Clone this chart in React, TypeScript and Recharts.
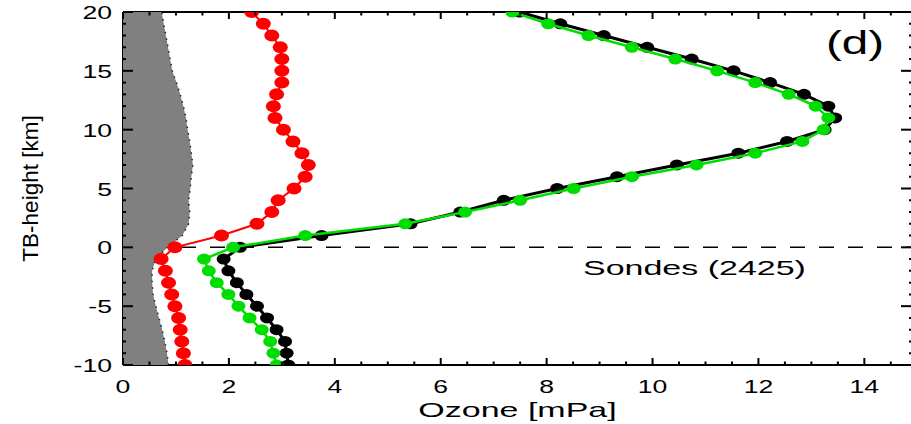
import React from "react";
import {
  ReferenceLine,
  Scatter,
  ScatterChart,
  XAxis,
  YAxis,
} from "recharts";

// altitude relative to the tropopause (km), one sample per km
const HEIGHTS = [
  -10, -9, -8, -7, -6, -5, -4, -3, -2, -1, 0, 1, 2, 3, 4, 5, 6, 7, 8, 9, 10,
  11, 12, 13, 14, 15, 16, 17, 18, 19, 20,
];

// ozone partial pressure (mPa) per height
const RED_O3 = [
  1.17, 1.14, 1.11, 1.08, 1.05, 0.98, 0.92, 0.86, 0.8, 0.72, 0.98, 1.86, 2.53,
  2.81, 2.93, 3.23, 3.44, 3.5, 3.38, 3.21, 3.03, 2.87, 2.84, 2.9, 3.0, 3.0, 3.0,
  2.97, 2.81, 2.65, 2.43,
];
const BLACK_O3 = [
  3.12, 3.09, 3.06, 2.9, 2.72, 2.53, 2.33, 2.15, 1.99, 1.9, 2.21, 3.75, 5.43,
  6.37, 7.19, 8.2, 9.33, 10.46, 11.62, 12.54, 13.25, 13.45, 13.32, 12.86, 12.22,
  11.53, 10.74, 9.9, 9.08, 8.26, 7.49,
];
const GREEN_O3 = [
  2.9, 2.84, 2.78, 2.62, 2.39, 2.18, 1.99, 1.77, 1.62, 1.53, 2.08, 3.44, 5.33,
  6.46, 7.5, 8.51, 9.61, 10.83, 11.94, 12.83, 13.23, 13.32, 13.08, 12.57, 11.94,
  11.22, 10.43, 9.61, 8.79, 8.03, 7.35,
];
// shaded envelope (right edge) per height
const SHADE_O3 = [
  0.86, 0.83, 0.79, 0.74, 0.68, 0.62, 0.57, 0.55, 0.55, 0.62, 0.84, 1.12, 1.24,
  1.26, 1.24, 1.27, 1.29, 1.32, 1.29, 1.26, 1.22, 1.19, 1.14, 1.08, 1.01, 0.93,
  0.89, 0.85, 0.81, 0.77, 0.73,
];

const X_TICKS = [
  0, 0.5, 1, 1.5, 2, 2.5, 3, 3.5, 4, 4.5, 5, 5.5, 6, 6.5, 7, 7.5, 8, 8.5, 9,
  9.5, 10, 10.5, 11, 11.5, 12, 12.5, 13, 13.5, 14, 14.5,
];
const X_LABELED = [0, 2, 4, 6, 8, 10, 12, 14];
const Y_LABELED = [-10, -5, 0, 5, 10, 15, 20];
const X_MAX = 14.9;

// chart box
const W = 914;
const H = 424;
const MARGIN = { top: 12, right: 2, bottom: 0, left: 0 };
const Y_AXIS_W = 123;
const X_AXIS_H = 59;
const PLOT_W = W - MARGIN.left - MARGIN.right - Y_AXIS_W;
const PLOT_H = H - MARGIN.top - MARGIN.bottom - X_AXIS_H;

const FONT = "'Liberation Sans', Arial, Helvetica, sans-serif";

const toRows = (vals: number[]) => HEIGHTS.map((h, i) => ({ h, x: vals[i] }));
const redRows = toRows(RED_O3);
const blackRows = toRows(BLACK_O3);
const greenRows = toRows(GREEN_O3);
const shadeEdge = toRows(SHADE_O3);
const shadeRows = [
  { h: HEIGHTS[0], x: 0 },
  ...shadeEdge,
  { h: HEIGHTS[HEIGHTS.length - 1], x: 0 },
];

const noDot = () => <g />;
const dot = (fill: string, rx: number, ry: number) => (p: any) => (
  <ellipse cx={p.cx} cy={p.cy} rx={rx} ry={ry} fill={fill} />
);

// inward ticks on the bottom edge plus the mirrored ones on the top edge
function XTick(props: any) {
  const { x, y, payload } = props;
  const major = X_LABELED.includes(payload.value);
  const len = major ? 7 : 3.5;
  const top = y - PLOT_H;
  return (
    <g>
      <line x1={x} x2={x} y1={y} y2={y - len} stroke="#000" strokeWidth={2} />
      <line x1={x} x2={x} y1={top} y2={top + len} stroke="#000" strokeWidth={2} />
      {major && (
        <text
          transform={`translate(${x},${y + 28}) scale(1.4,1)`}
          textAnchor="middle"
          fontSize={19}
          fontFamily={FONT}
          fill="#000"
        >
          {payload.value}
        </text>
      )}
    </g>
  );
}

// inward ticks on the left edge plus the mirrored ones on the right edge
function YTick(props: any) {
  const { x, y, payload } = props;
  const major = Y_LABELED.includes(payload.value);
  const right = x + PLOT_W;
  return (
    <g>
      <line x1={x} x2={x + (major ? 10 : 3)} y1={y} y2={y} stroke="#000" strokeWidth={2} />
      <line x1={right} x2={right - (major ? 11 : 3)} y1={y} y2={y} stroke="#000" strokeWidth={2} />
      {major && (
        <text
          transform={`translate(${x - 11},${y + 7}) scale(1.4,1)`}
          textAnchor="end"
          fontSize={19}
          fontFamily={FONT}
          fill="#000"
        >
          {payload.value}
        </text>
      )}
    </g>
  );
}

export default function App() {
  return (
    <div
      style={{
        position: "absolute",
        left: 0,
        top: 0,
        width: 911,
        height: 424,
        overflow: "hidden",
        background: "#fff",
      }}
    >
      <ScatterChart width={W} height={H} margin={MARGIN}>
        <XAxis
          type="number"
          dataKey="x"
          domain={[0, X_MAX]}
          ticks={X_TICKS}
          interval={0}
          allowDataOverflow
          height={X_AXIS_H}
          tickSize={0}
          tickMargin={0}
          tickLine={false}
          tick={<XTick />}
          axisLine={{ stroke: "#000", strokeWidth: 2 }}
          label={{
            content: (p: any) => (
              <text
                transform={`translate(${p.viewBox.x + p.viewBox.width / 2},${p.viewBox.y + 52}) scale(1.7,1)`}
                textAnchor="middle"
                fontSize={20}
                fontFamily={FONT}
                fill="#000"
              >
                Ozone [mPa]
              </text>
            ),
          }}
        />
        <YAxis
          type="number"
          dataKey="h"
          domain={[-10, 20]}
          ticks={HEIGHTS}
          interval={0}
          allowDataOverflow
          width={Y_AXIS_W}
          tickSize={0}
          tickMargin={0}
          tickLine={false}
          tick={<YTick />}
          axisLine={{ stroke: "#000", strokeWidth: 2 }}
          label={{
            content: (p: any) => (
              <text
                transform={`translate(30,${p.viewBox.y + p.viewBox.height / 2}) rotate(-90)`}
                textAnchor="middle"
                dominantBaseline="central"
                fontSize={22.5}
                fontFamily={FONT}
                fill="#000"
              >
                TB-height [km]
              </text>
            ),
          }}
        />

        {/* shaded envelope */}
        <Scatter
          data={shadeRows}
          shape={noDot}
          line={{ fill: "#808080", stroke: "none" }}
          isAnimationActive={false}
        />
        <Scatter
          data={shadeEdge}
          shape={noDot}
          line={{ stroke: "#222", strokeWidth: 1.5, strokeDasharray: "1.5 5" }}
          isAnimationActive={false}
        />

        {/* frame edges drawn over the shading */}
        <ReferenceLine x={0} stroke="#000" strokeWidth={2} />
        <ReferenceLine
          y={0}
          stroke="#000"
          strokeWidth={1.5}
          strokeDasharray="15 14"
          label={{
            content: (p: any) => (
              <text
                transform={`translate(${p.viewBox.x + 460},${p.viewBox.y + 28}) scale(1.7,1)`}
                textAnchor="start"
                fontSize={20}
                fontFamily={FONT}
                fill="#000"
              >
                Sondes (2425)
              </text>
            ),
          }}
        />
        <ReferenceLine
          y={20}
          stroke="#000"
          strokeWidth={2}
          label={{
            content: (p: any) => (
              <text
                transform={`translate(${p.viewBox.x + 732},${p.viewBox.y + 42}) scale(1.4,1)`}
                textAnchor="middle"
                fontSize={34}
                fontFamily={FONT}
                fill="#000"
              >
                (d)
              </text>
            ),
          }}
        />

        <Scatter
          data={redRows}
          shape={dot("#ff0000", 7.5, 6)}
          line={{ stroke: "#ff0000", strokeWidth: 2 }}
          isAnimationActive={false}
        />
        <Scatter
          data={blackRows}
          shape={dot("#000000", 7, 5.5)}
          line={{ stroke: "#000000", strokeWidth: 3 }}
          isAnimationActive={false}
        />
        <Scatter
          data={greenRows}
          shape={dot("#00dd00", 7, 5.5)}
          line={{ stroke: "#00dd00", strokeWidth: 2.5 }}
          isAnimationActive={false}
        />
      </ScatterChart>
    </div>
  );
}
